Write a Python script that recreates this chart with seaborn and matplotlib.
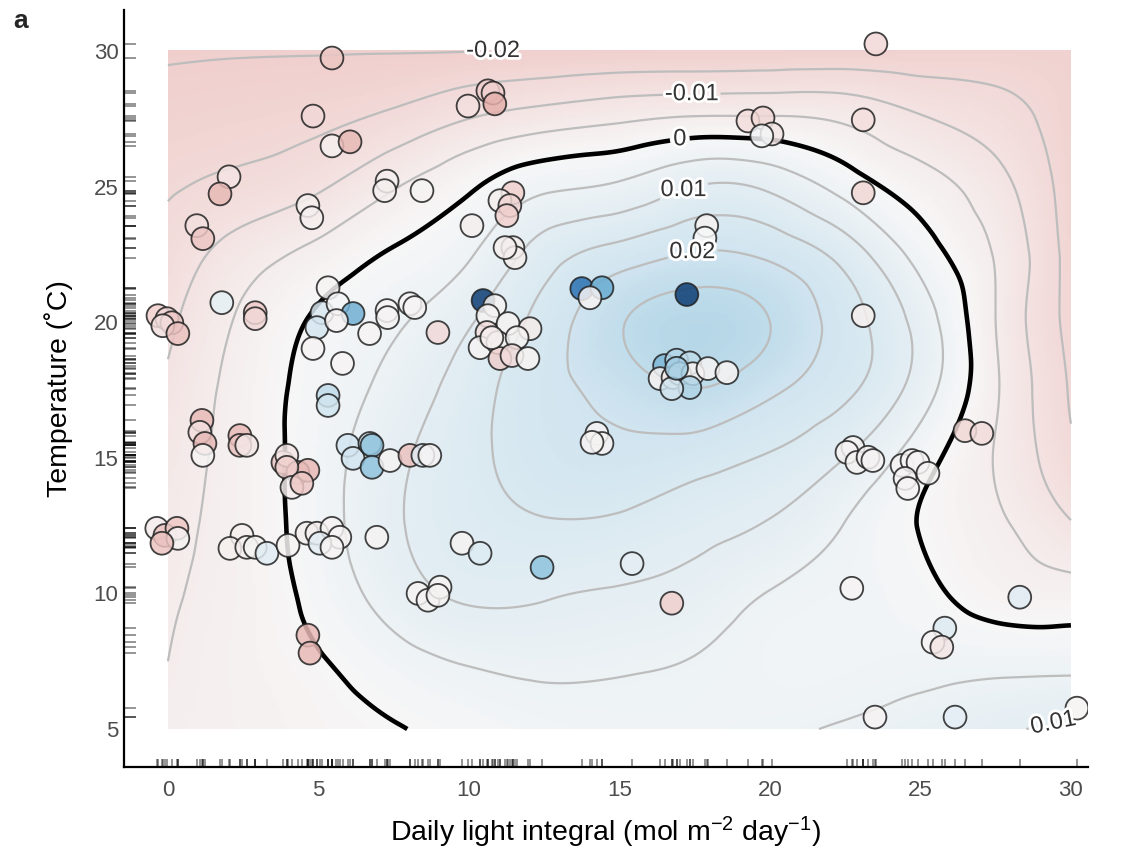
import numpy as np
import pandas as pd
import matplotlib
matplotlib.use("Agg")
import matplotlib.pyplot as plt
import matplotlib.tri as mtri
import matplotlib.patheffects as pe
from matplotlib.colors import LinearSegmentedColormap
import seaborn as sns

# ---------------------------------------------------------------------------
# Observations: daily light integral, temperature and response value
# ---------------------------------------------------------------------------
dli = [
    5.45, 23.52, 9.97, 10.63, 10.80, 10.86, 4.82, 5.45, 6.05, 2.03, 1.73, 0.96, 1.16,
    4.65, 4.78, 7.28, 7.20, 8.44, 19.27, 19.77, 20.07, 19.73, 11.46, 11.03, 11.36, 11.26,
    10.10, 11.46, 11.53, 11.20, 17.90, 17.84, 23.10, 23.10, 23.10,
    -0.33, -0.03, 0.13, -0.17, 0.33, 1.79, 2.90, 2.90, 5.32, 5.12, 5.65, 6.15, 4.95, 5.60,
    4.82, 5.80, 6.70, 7.28, 7.30, 8.04, 8.20, 8.97, 5.32, 5.32, 1.13, 1.06, 1.23, 1.16,
    2.39, 2.39, 2.62, 3.82, 3.95, 4.32, 4.65, 3.95, 4.12, 4.45, 5.98, 6.15, 6.71, 6.78,
    6.78, 7.38, 8.04, 8.47, 8.70,
    -0.37, -0.10, 0.30, 0.33, -0.20, 2.46, 2.06, 2.62, 2.90, 3.29, 3.99, 4.62, 4.95, 5.45,
    5.71, 5.05, 5.45, 6.94, 4.65, 4.72, 8.31, 8.64, 9.04, 8.97, 9.77, 10.37, 12.43, 15.42,
    16.74,
    22.72, 28.30, 25.81, 25.42, 25.71, 23.49, 26.15, 30.20,
    10.47, 10.86, 10.63, 10.60, 11.30, 12.03, 10.37, 10.96, 11.60, 11.03, 11.43, 11.96,
    10.76, 13.75, 14.42, 14.02, 17.24, 14.25, 14.42, 14.09,
    16.50, 16.90, 17.34, 16.35, 16.78, 17.00, 17.44, 17.94, 18.57, 17.34, 16.74, 16.90,
    22.76, 22.56, 22.89, 23.26, 23.42, 26.48, 27.04, 24.39, 24.72, 24.92, 25.25, 24.49,
    24.58,
]
temperature = [
    29.74, 30.26, 27.97, 28.53, 28.45, 28.05, 27.60, 26.50, 26.65, 25.36, 24.73, 23.56, 23.08,
    24.30, 23.85, 25.20, 24.85, 24.85, 27.42, 27.53, 26.94, 26.87, 24.77, 24.48, 24.30, 23.93,
    23.56, 22.75, 22.38, 22.75, 23.56, 23.10, 27.46, 24.77, 20.24,
    20.24, 20.13, 19.98, 19.87, 19.58, 20.72, 20.35, 20.13, 21.27, 20.35, 20.68, 20.32, 19.80,
    20.06, 19.03, 18.48, 19.58, 20.43, 20.17, 20.68, 20.54, 19.62, 17.30, 16.93, 16.38, 15.94,
    15.53, 15.09, 15.82, 15.46, 15.46, 14.83, 15.09, 14.46, 14.54, 14.65, 13.91, 14.06, 15.46,
    14.98, 15.53, 15.46, 14.65, 14.90, 15.09, 15.09, 15.09,
    12.40, 12.14, 12.40, 12.03, 11.85, 12.14, 11.66, 11.70, 11.70, 11.48, 11.77, 12.22, 12.22,
    12.40, 12.07, 11.85, 11.70, 12.07, 8.46, 7.80, 10.00, 9.75, 10.23, 9.93, 11.85, 11.48,
    10.96, 11.10, 9.64,
    10.19, 9.86, 8.72, 8.20, 8.02, 5.44, 5.44, 5.77,
    20.80, 20.61, 20.24, 19.62, 19.95, 19.76, 19.06, 19.25, 19.43, 18.66, 18.77, 18.66,
    19.43, 21.24, 21.27, 20.90, 21.02, 15.90, 15.53, 15.57,
    18.40, 18.60, 18.50, 17.92, 17.96, 18.10, 18.10, 18.29, 18.14, 17.59, 17.55, 18.30,
    15.38, 15.20, 14.83, 15.02, 14.90, 16.00, 15.90, 14.72, 14.90, 14.83, 14.43, 14.24,
    13.87,
]
response = [
    -0.025, -0.015, -0.012, -0.020, -0.020, -0.035, -0.015, -0.004, -0.030, -0.010, -0.030,
    -0.012, -0.025, -0.004, -0.004, -0.004, -0.004, -0.002, -0.012, -0.016, -0.008, 0.002,
    -0.020, -0.004, -0.016, -0.020, -0.004, -0.004, -0.004, -0.004, -0.002, 0.000, -0.012,
    -0.016, -0.004,
    -0.020, -0.016, -0.024, -0.012, -0.026, 0.008, -0.022, -0.016, -0.002, 0.015, 0.002,
    0.048, 0.018, -0.002, -0.002, -0.002, -0.002, -0.002, -0.002, -0.002, -0.002, -0.015,
    0.025, 0.020, -0.030, -0.012, -0.030, -0.002, -0.030, -0.026, -0.008, -0.024, -0.008,
    -0.026, -0.030, -0.020, -0.004, -0.024, 0.018, 0.018, 0.020, 0.040, 0.040, -0.002,
    -0.026, 0.012, -0.002,
    -0.006, -0.026, -0.024, -0.002, -0.026, -0.004, -0.004, -0.004, -0.002, 0.012, -0.002,
    -0.004, -0.004, -0.002, -0.002, 0.010, -0.002, -0.002, -0.030, -0.030, -0.002, -0.002,
    -0.002, -0.002, -0.002, 0.014, 0.040, 0.010, -0.020,
    -0.002, 0.012, 0.014, -0.002, -0.008, -0.002, 0.010, -0.002,
    0.095, -0.002, -0.002, -0.012, -0.002, -0.006, -0.002, -0.002, -0.002, -0.020, -0.014,
    -0.002, -0.004, 0.075, 0.050, -0.002, 0.095, -0.002, -0.002, -0.002,
    0.045, 0.030, 0.025, -0.002, -0.006, -0.002, -0.002, -0.002, -0.002, 0.030, 0.020,
    0.035,
    -0.002, -0.002, -0.002, -0.002, -0.002, -0.016, -0.014, -0.002, -0.002, -0.002, -0.002,
    -0.002, -0.002,
]

# ---------------------------------------------------------------------------
# Fitted response surface on a coarse grid (rows: temperature, cols: DLI)
# ---------------------------------------------------------------------------
grid_dli = [0, 2.5, 5, 7.5, 10, 12.5, 15, 17.5, 20, 22.5, 25, 27.5, 30]
grid_temp = [5, 7.5, 10, 12.5, 15, 17.5, 20, 22.5, 25, 27.5, 30]
surface_milli = [
    [-4.2, -3.0, -1.7, -0.3, 1.5, 2.8, 3.5, 3.8, 4.3, 5.5, 7.0, 9.2, 11.0],
    [-5.0, -2.7, -0.4, 3.0, 5.4, 6.2, 5.7, 4.8, 3.0, 2.8, 3.5, 3.5, 3.5],
    [-5.5, -2.8, 1.6, 7.3, 10.8, 10.5, 9.5, 8.0, 4.8, 3.0, 1.2, -2.0, -3.0],
    [-6.5, -2.7, 2.6, 9.2, 13.0, 14.5, 14.0, 11.9, 9.5, 4.8, -0.2, -4.1, -9.5],
    [-7.5, -2.8, 2.6, 8.7, 13.6, 17.5, 18.7, 17.2, 14.5, 10.0, 2.2, -5.3, -14.0],
    [-9.2, -3.0, 1.9, 6.7, 12.6, 18.2, 22.0, 24.8, 21.0, 16.0, 7.5, -4.4, -15.5],
    [-11.0, -4.1, 0.7, 4.3, 9.5, 17.0, 24.5, 28.0, 25.0, 17.5, 8.0, -5.0, -16.5],
    [-13.2, -7.5, -3.4, 0.5, 4.5, 12.5, 17.2, 20.4, 19.0, 13.0, 3.0, -5.4, -17.0],
    [-15.5, -13.5, -10.7, -5.4, -0.7, 4.0, 5.8, 10.0, 9.0, 3.0, -2.6, -8.1, -17.5],
    [-18.1, -17.3, -16.2, -13.75, -10.0, -7.5, -5.8, -4.4, -4.4, -5.8, -9.5, -12.5, -18.0],
    [-20.5, -20.3, -20.25, -20.2, -20.1, -19.85, -19.6, -19.5, -19.3, -19.0, -18.6, -18.3, -18.5],
]

plain_levels = [-0.015, -0.005, 0.005, 0.015, 0.025]
# level -> where its text label sits
labelled_levels = {
    -0.02: [(10.8, 29.95)],
    -0.01: [(17.4, 28.45)],
    0.01: [(17.1, 24.95), (29.4, 5.3)],
    0.02: [(17.4, 22.7)],
}
zero_label_spot = [(17.0, 26.8)]

x_ticks = [0, 5, 10, 15, 20, 25, 30]
y_ticks = [5, 10, 15, 20, 25, 30]

# ---------------------------------------------------------------------------
# Smooth the coarse surface with a C1 cubic interpolant
# ---------------------------------------------------------------------------
gx, gy = np.meshgrid(np.array(grid_dli, float), np.array(grid_temp, float))
gz = np.array(surface_milli, float) / 1000.0
tri = mtri.Triangulation(gx.ravel(), gy.ravel())
interp = mtri.CubicTriInterpolator(tri, gz.ravel(), kind="min_E")
fx = np.linspace(0, 30, 361)
fy = np.linspace(5, 30, 301)
FX, FY = np.meshgrid(fx, fy)
FZ = np.asarray(interp(FX, FY).filled(np.nan))

df = pd.DataFrame({"dli": dli, "temperature": temperature, "response": response})

# ---------------------------------------------------------------------------
# Figure
# ---------------------------------------------------------------------------
sns.set_theme(style="ticks")
plt.rcParams["font.family"] = ["Liberation Sans", "DejaVu Sans"]
plt.rcParams["mathtext.fontset"] = "custom"
plt.rcParams["mathtext.rm"] = "Liberation Sans"
plt.rcParams["mathtext.it"] = "Liberation Sans:italic"
plt.rcParams["mathtext.default"] = "regular"
plt.rcParams["contour.negative_linestyle"] = "solid"

fig = plt.figure(figsize=(11.22, 8.57), dpi=100)
ax = fig.add_axes([0.1105, 0.105, 0.859, 0.883])

# diverging scale: muted pink for negative, RdBu blues for positive
diverging = LinearSegmentedColormap.from_list("pink_white_blue", [
    (0.00, "#6e0a1e"),
    (0.10, "#af3237"),
    (0.20, "#cd6e69"),
    (0.30, "#e1a5a0"),
    (0.40, "#f0d0ce"),
    (0.50, "#f7f7f7"),
    (0.60, "#d1e5f0"),
    (0.70, "#92c5de"),
    (0.80, "#4393c3"),
    (0.90, "#2166ac"),
    (1.00, "#053061"),
])
vlim = 0.1
ax.imshow(FZ, extent=[0, 30, 5, 30], origin="lower", aspect="auto",
          cmap=diverging, vmin=-vlim, vmax=vlim, interpolation="bilinear", zorder=0)

fmt = lambda v: f"{v:g}"
halo = [pe.withStroke(linewidth=4, foreground="white")]
grey = "#bdbdbd"

ax.contour(FX, FY, FZ, levels=plain_levels, colors=grey, linewidths=1.6, zorder=1)
texts = []
for lev, spots in labelled_levels.items():
    c = ax.contour(FX, FY, FZ, levels=[lev], colors=grey, linewidths=1.6, zorder=1)
    texts += c.clabel(manual=spots, inline=True, inline_spacing=4, fmt=fmt,
                      fontsize=17, colors="#333333")
cz = ax.contour(FX, FY, FZ, levels=[0.0], colors="black", linewidths=3.3, zorder=2)
texts += cz.clabel(manual=zero_label_spot, inline=True, inline_spacing=4, fmt=fmt,
                   fontsize=17, colors="#333333")
for t in texts:
    t.set_path_effects(halo)
    t.set_zorder(6)  # contour labels sit above the points
    # labels along the top of the rings read horizontally
    if t.get_position()[0] < 25:
        t.set_rotation(0)

sns.scatterplot(data=df, x="dli", y="temperature", hue="response",
                palette=diverging, hue_norm=(-vlim, vlim), s=270, alpha=0.85,
                edgecolor="#222222", linewidth=1.3, legend=False, zorder=4, ax=ax)

sns.rugplot(x=df["dli"], height=0.011, color="black", alpha=0.45,
            linewidth=1.3, ax=ax)
sns.rugplot(y=df["temperature"], height=0.012, color="black", alpha=0.45,
            linewidth=1.3, ax=ax)

ax.set_xlim(-1.46, 30.56)
ax.set_ylim(3.6, 31.5)
ax.set_xticks(x_ticks)
ax.set_yticks(y_ticks)
ax.set_xlabel(r"Daily light integral (mol m$^{-2}$ day$^{-1}$)", fontsize=20.5,
              color="black", labelpad=10)
ax.set_ylabel("Temperature (\u02daC)", fontsize=20.5, color="black", labelpad=15)
ax.tick_params(axis="both", length=0, labelsize=16, labelcolor="#4d4d4d")
ax.tick_params(axis="x", pad=9)
ax.tick_params(axis="y", pad=4)
sns.despine(ax=ax)
for side in ("left", "bottom"):
    ax.spines[side].set_linewidth(1.6)
    ax.spines[side].set_color("black")
ax.grid(False)

fig.text(0.012, 0.967, "a", fontsize=19, fontweight="bold")

fig.savefig("out.png", dpi=100)
